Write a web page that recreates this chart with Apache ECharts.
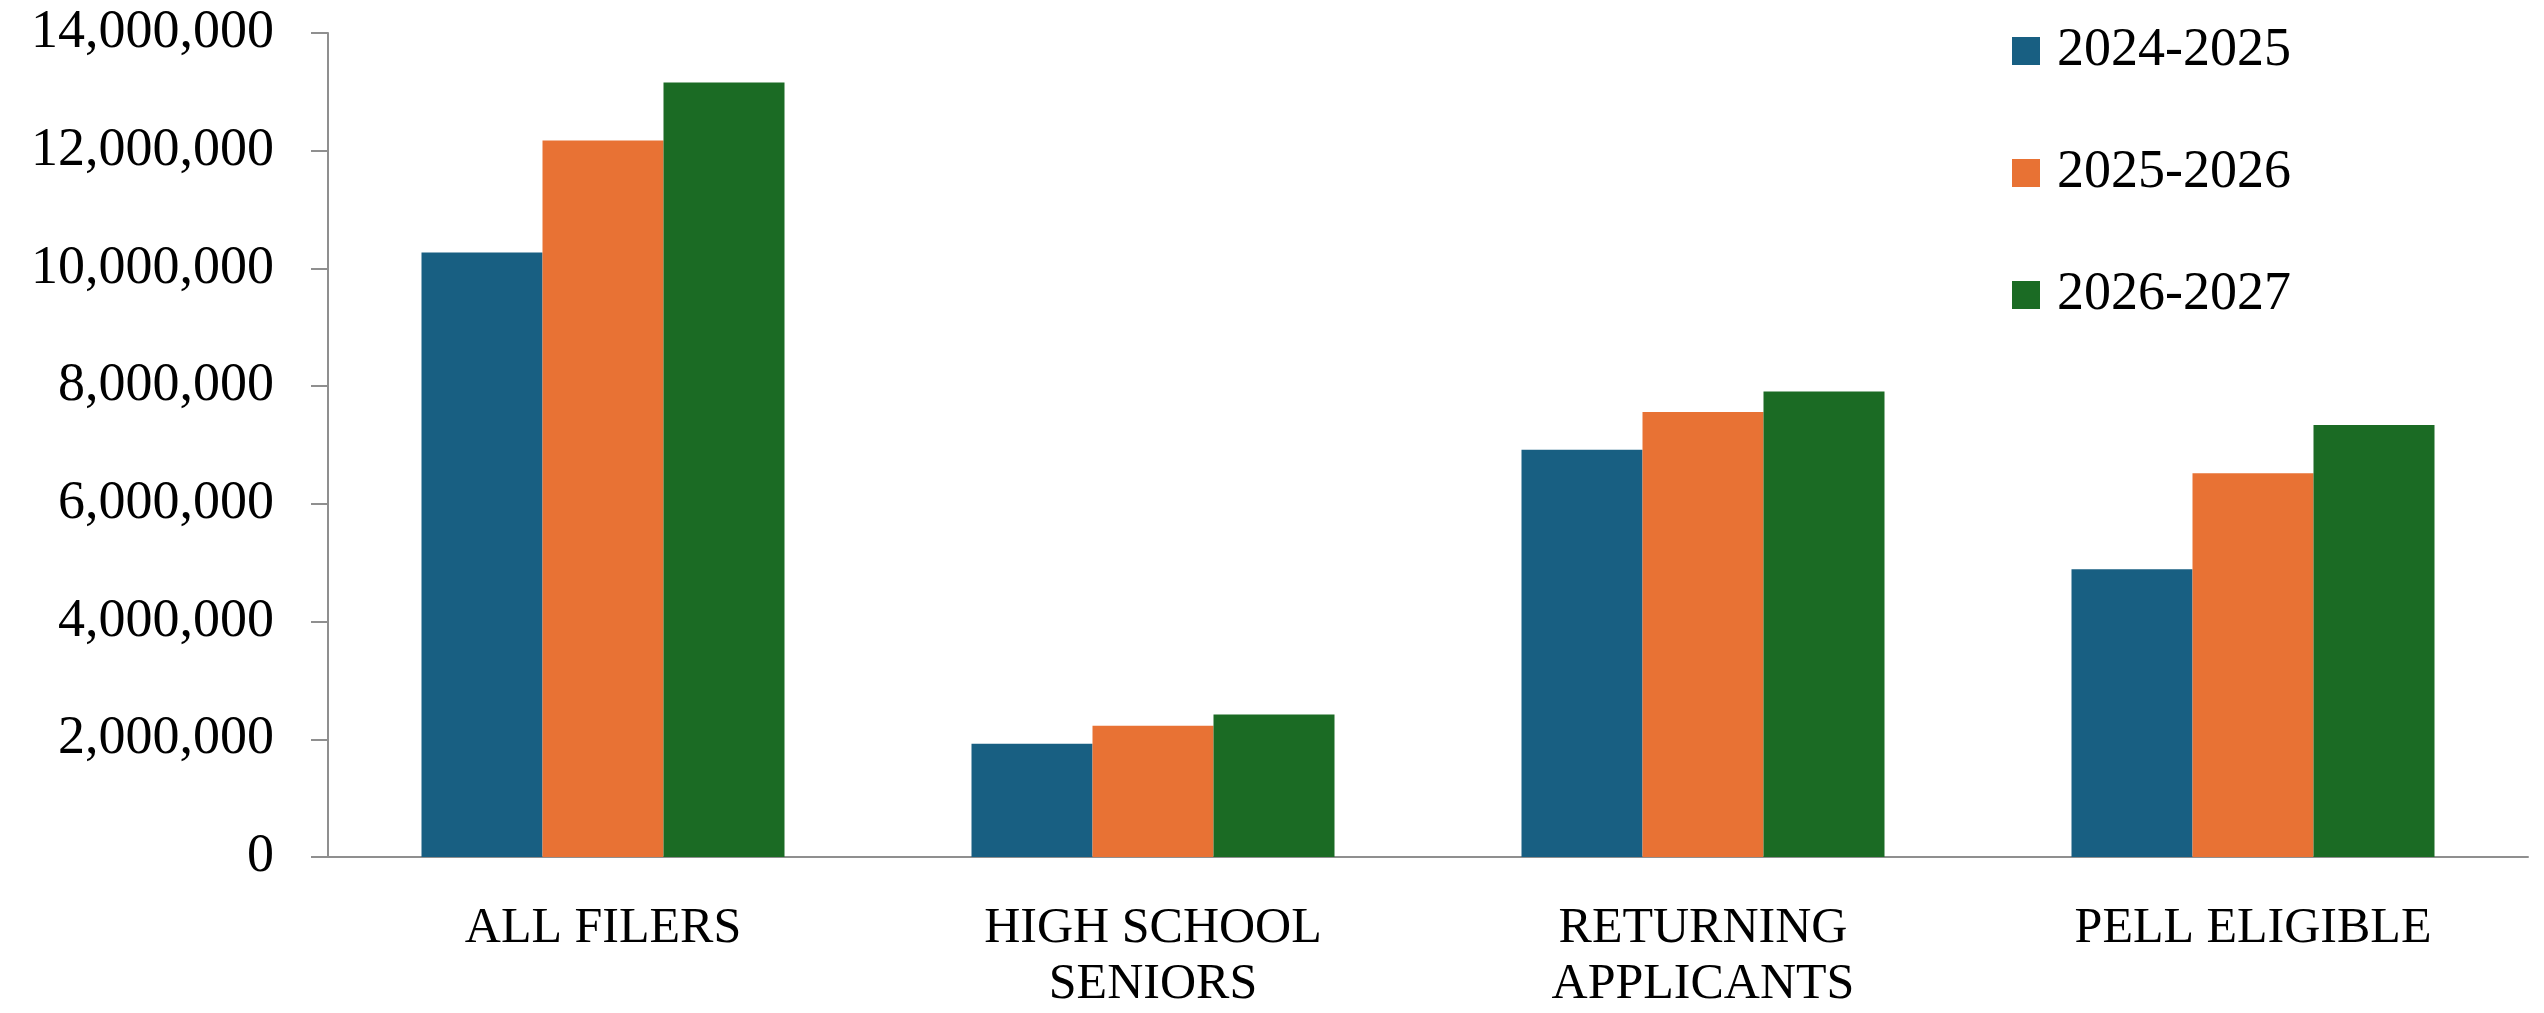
<!DOCTYPE html>
<html>
<head>
<meta charset="utf-8">
<script src="https://cdn.jsdelivr.net/npm/echarts@6/dist/echarts.min.js"></script>
<style>
  html, body { margin: 0; padding: 0; background: #fff; }
  #chart { width: 2544px; height: 1013px; }
</style>
</head>
<body>
<div id="chart"></div>
<script>
// categories and the names shown under the axis
var categories = ['ALL FILERS', 'HIGH SCHOOL SENIORS', 'RETURNING APPLICANTS', 'PELL ELIGIBLE'];
var categoryLabels = ['ALL FILERS', 'HIGH SCHOOL\nSENIORS', 'RETURNING\nAPPLICANTS', 'PELL ELIGIBLE'];

var seriesNames = ['2024-2025', '2025-2026', '2026-2027'];
var values2024 = [10270000, 1925000, 6920000, 4890000];
var values2025 = [12175000, 2230000, 7560000, 6520000];
var values2026 = [13160000, 2420000, 7910000, 7340000];

var colors = ['#185f82', '#e87234', '#1b6b24'];
var font = '"Liberation Serif", "Times New Roman", serif';

var chart = echarts.init(document.getElementById('chart'));

function fmt(v) {
    return String(v).replace(/\B(?=(\d{3})+(?!\d))/g, ',');
}

function bar(name, data, i) {
    return {
        name: name,
        type: 'bar',
        data: data,
        barGap: 0,
        barCategoryGap: '34%',
        itemStyle: { color: colors[i] }
    };
}

var option = {
    animation: false,
    color: colors,
    grid: {
        left: 328,
        right: 16,
        top: 33,
        bottom: 155
    },
    legend: {
        orient: 'vertical',
        left: 2007,
        top: 19,
        itemWidth: 28,
        itemHeight: 28,
        itemGap: 68,
        icon: 'rect',
        data: seriesNames,
        textStyle: {
            fontFamily: font,
            fontSize: 54,
            color: '#000',
            padding: [0, 0, 0, 12]
        }
    },
    xAxis: {
        type: 'category',
        data: categories,
        axisLine: { lineStyle: { color: '#8f8f8f', width: 2 } },
        axisTick: { length: 17, lineStyle: { color: '#8f8f8f', width: 2 } },
        axisLabel: {
            margin: 44,
            interval: 0,
            fontFamily: font,
            fontSize: 50,
            lineHeight: 56,
            color: '#000',
            formatter: function (v, idx) { return categoryLabels[idx]; }
        }
    },
    yAxis: {
        type: 'value',
        min: 0,
        max: 14000000,
        interval: 2000000,
        splitLine: { show: false },
        axisLine: { show: true, lineStyle: { color: '#8f8f8f', width: 2 } },
        axisTick: { show: true, length: 17, lineStyle: { color: '#8f8f8f', width: 2 } },
        axisLabel: {
            margin: 54,
            fontFamily: font,
            fontSize: 54,
            color: '#000',
            formatter: fmt
        }
    },
    series: [
        bar(seriesNames[0], values2024, 0),
        bar(seriesNames[1], values2025, 1),
        bar(seriesNames[2], values2026, 2)
    ]
};

chart.setOption(option);
</script>
</body>
</html>
